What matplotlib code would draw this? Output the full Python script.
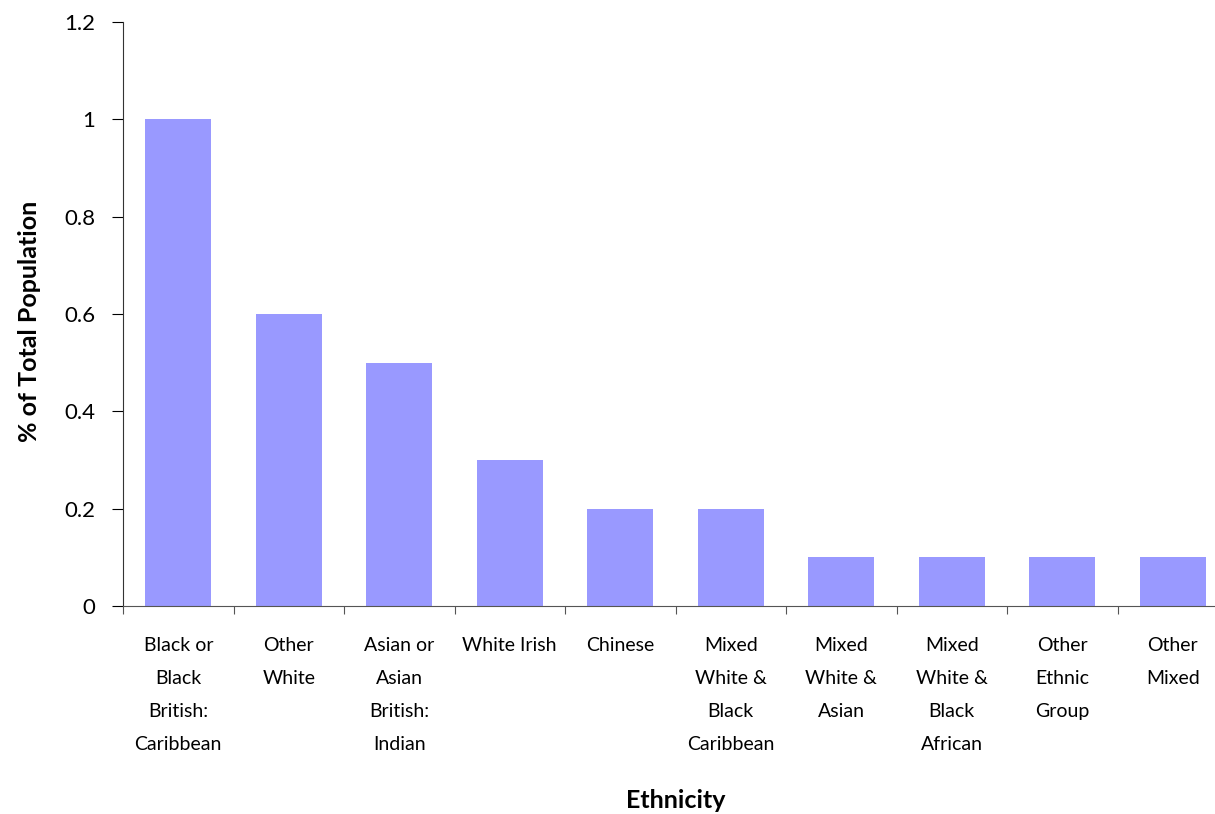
import numpy as np
import matplotlib.pyplot as plt

plt.rcParams['font.family'] = ['Lato', 'DejaVu Sans']

# Data
categories = ["Black or\nBlack\nBritish:\nCaribbean", "Other\nWhite", "Asian or\nAsian\nBritish:\nIndian",
              "White Irish", "Chinese", "Mixed\nWhite &\nBlack\nCaribbean", "Mixed\nWhite &\nAsian",
              "Mixed\nWhite &\nBlack\nAfrican", "Other\nEthnic\nGroup", "Other\nMixed"]
values = [1.0, 0.6, 0.5, 0.3, 0.2, 0.2, 0.1, 0.1, 0.1, 0.1]
yticks = [0, 0.2, 0.4, 0.6, 0.8, 1, 1.2]
ytick_labels = ["0", "0.2", "0.4", "0.6", "0.8", "1", "1.2"]

fig = plt.figure(figsize=(12.15, 8.14), dpi=100)
ax = fig.add_axes([123/1215, 208/814, 1105/1215, 584/814])

x = np.arange(len(values))
ax.bar(x, values, width=0.6, color='#9999FF', zorder=2)

ax.set_xlim(-0.5, len(values) - 0.5)
ax.set_ylim(0, 1.2)
ax.set_yticks(yticks)
ax.set_yticklabels(ytick_labels, fontsize=16)

# ticks between categories, labels at centers
ax.set_xticks(np.arange(len(values) + 1) - 0.5)
ax.set_xticklabels([])
ax.set_xticks(x, minor=True)
ax.set_xticklabels(categories, minor=True, fontsize=14, linespacing=2.15, va='top')
ax.tick_params(axis='x', which='minor', length=0, pad=22)
ax.tick_params(axis='x', which='major', length=6, color='#555555')
ax.tick_params(axis='y', length=8, pad=12)

for s in ['top', 'right']:
    ax.spines[s].set_visible(False)
ax.spines['left'].set_color('#333333')
ax.spines['bottom'].set_color('#555555')

fig.text(676/1215, 1 - 800/814, "Ethnicity", fontsize=18, fontweight='bold', ha='center', va='center')
fig.text(30/1215, 1 - 321/814, "% of Total Population", fontsize=18, fontweight='bold',
         rotation=90, ha='center', va='center')

fig.savefig("out.png", dpi=100)
